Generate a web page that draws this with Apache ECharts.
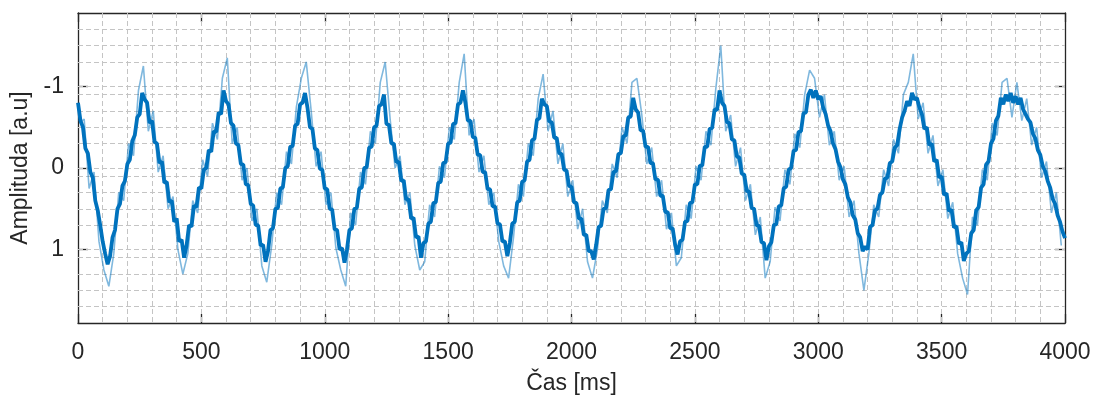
<!DOCTYPE html>
<html><head><meta charset="utf-8">
<script src="https://cdn.jsdelivr.net/npm/echarts@6/dist/echarts.min.js"></script>
<style>html,body{margin:0;padding:0;background:#fff}#c{width:1093px;height:401px}</style>
</head><body><div id="c"></div>
<script>
// ---- axis / tick definitions ----
const X_MIN = 0, X_MAX = 4000, X_INTERVAL = 500;
const Y_MIN = -1.9, Y_MAX = 1.9;
const Y_TICKS = [-1, 0, 1];
const Y_GRID = [-1.7, -1.5, -1.3, -1, -0.9, -0.7, -0.5, -0.3, 0, 0.1, 0.3, 0.5, 0.7, 1, 1.1, 1.3, 1.5, 1.7];
const X_GRID = [100,200,300,400,500,600,700,800,900,1000,1100,1200,1300,1400,1500,1600,1700,1800,1900,2000,
  2100,2200,2300,2400,2500,2600,2700,2800,2900,3000,3100,3200,3300,3400,3500,3600,3700,3800,3900];

// ---- main signal (sampled every 10 ms from 0 ms) ----
const MAIN_START = 0, MAIN_STEP = 10;
const mainValues = [
 -0.80,-0.58,-0.50,-0.24,-0.18,0.05,0.12,0.40,0.52,0.70,
 0.90,1.05,1.18,1.08,0.85,0.76,0.50,0.44,0.22,0.16,
 -0.05,-0.10,-0.33,-0.40,-0.62,-0.66,-0.92,-0.84,-0.80,-0.55,
 -0.58,-0.32,-0.30,-0.06,-0.08,0.18,0.17,0.42,0.40,0.66,
 0.62,0.90,0.88,1.10,0.95,0.70,0.72,0.46,0.48,0.24,
 0.25,0.02,0.00,-0.22,-0.20,-0.45,-0.44,-0.68,-0.66,-0.95,
 -0.82,-0.78,-0.55,-0.52,-0.30,-0.28,-0.05,-0.04,0.20,0.21,
 0.44,0.46,0.70,0.70,0.95,0.94,1.15,1.02,0.76,0.74,
 0.50,0.49,0.25,0.24,0.00,-0.02,-0.26,-0.27,-0.52,-0.54,
 -0.78,-0.80,-0.92,-0.74,-0.50,-0.48,-0.24,-0.22,0.01,0.02,
 0.25,0.26,0.50,0.51,0.75,0.76,1.00,0.98,1.16,1.00,
 0.76,0.74,0.50,0.49,0.25,0.24,0.00,-0.01,-0.25,-0.26,
 -0.50,-0.52,-0.76,-0.78,-0.90,-0.54,-0.53,-0.30,-0.30,-0.07,
 -0.08,0.16,0.15,0.39,0.38,0.62,0.61,0.85,0.84,1.10,
 0.92,0.90,0.68,0.66,0.43,0.42,0.18,0.17,-0.06,-0.07,
 -0.30,-0.31,-0.54,-0.55,-0.78,-0.80,-0.95,-0.80,-0.58,-0.58,
 -0.38,-0.37,-0.16,-0.16,0.05,0.05,0.26,0.26,0.47,0.47,
 0.68,0.69,0.90,0.90,1.08,0.92,0.68,0.66,0.42,0.40,
 0.17,0.15,-0.08,-0.10,-0.34,-0.36,-0.59,-0.61,-0.85,-0.78,
 -0.76,-0.57,-0.56,-0.37,-0.37,-0.18,-0.17,0.02,0.03,0.22,
 0.23,0.42,0.43,0.62,0.62,0.82,0.82,1.02,1.02,1.12,
 0.94,0.72,0.71,0.50,0.49,0.27,0.26,0.05,0.04,-0.17,
 -0.18,-0.39,-0.40,-0.62,-0.63,-0.86,-0.72,-0.68,-0.46,-0.46,
 -0.26,-0.26,-0.06,-0.06,0.14,0.14,0.34,0.34,0.54,0.54,
 0.74,0.74,0.94,1.06,0.90,0.88,0.66,0.65,0.43,0.42,
 0.20,0.20,-0.03,-0.03,-0.26,-0.26,-0.48,-0.49,-0.72,-0.71,
 -0.95,-0.80,-0.76,-0.56,-0.55,-0.35,-0.34,-0.14,-0.13,0.07,
 0.08,0.28,0.29,0.49,0.50,0.70,0.71,0.91,0.92,1.13,
 0.96,0.91,0.70,0.69,0.47,0.46,0.25,0.23,0.02,0.00,
 -0.21,-0.22,-0.44,-0.45,-0.67,-0.68,-0.90,-0.96,-0.86,-0.95,
 -0.84,-0.88,-0.74,-0.66,-0.52,-0.45,-0.30,-0.23,-0.08,-0.01,
 0.14,0.20,0.36,0.42,0.58,0.63,0.80,0.85,1.02,0.96,
 1.00,0.72,0.70,0.52,0.50,0.33,0.30,0.13,0.12,-0.06,
 -0.08,-0.25,-0.28,-0.48,-0.62,-0.70,-0.82,-0.76,-0.92,-0.84,
 -0.86,-0.74,-0.66,-0.48,-0.50,-0.28,-0.30,-0.08,-0.10,0.12,
 0.10,0.33,0.31,0.53,0.51,0.73,0.71,0.93,0.91,1.14,
 1.05,1.02,0.80,0.76,0.52,0.48,0.24,0.20,-0.04,-0.08,
 -0.30,-0.36,-0.58,-0.64,-0.86,-0.78,-0.90,-0.82,-0.92,-0.80,
 -0.88,-0.78,-0.86,-0.72,-0.66,-0.60,-0.56,-0.42,-0.36,-0.22,
 -0.16,-0.02,0.04,0.16,0.24,0.38,0.44,0.58,0.66,0.78,
 0.86
];

// ---- noise spikes of the raw signal (sampled every 20 ms from 5 ms) ----
const SPIKE_START = 5, SPIKE_STEP = 20;
const spikeValues = [
 -0.55,-0.60,0.25,0.05,0.90,1.25,1.45,1.05,0.30,0.40,
 -0.30,-0.15,-0.95,-1.25,-0.45,-0.70,0.05,-0.15,0.50,0.35,
 1.00,1.30,1.05,0.40,0.55,-0.10,0.10,-0.55,-0.35,-1.10,
 -1.35,-0.30,-0.50,0.15,0.00,0.65,0.50,1.20,1.40,0.95,
 0.30,0.45,-0.20,-0.05,-0.75,-1.10,-1.30,-0.70,-0.02,-0.20,
 0.45,0.30,0.98,1.25,1.45,0.55,0.70,0.05,0.20,-0.45,
 -0.30,-1.05,-1.30,-0.60,0.00,-0.15,0.45,0.30,0.95,1.25,
 1.15,0.45,0.60,-0.02,0.12,-0.50,-0.35,-1.05,-1.40,-0.40,
 -0.60,0.05,-0.15,0.45,0.30,0.90,1.20,1.35,0.85,0.20,
 0.35,-0.30,-0.15,-0.85,-1.15,-0.45,-0.70,-0.05,-0.30,0.35,
 0.15,0.75,0.50,1.15,1.35,1.00,0.40,0.55,-0.05,0.12,
 -0.50,-0.30,-1.05,-1.10,-0.65,-0.05,-0.25,0.35,0.15,0.75,
 0.55,1.20,1.10,0.45,0.62,-0.02,0.15,-0.45,-0.28,-0.98,
 -1.50,-0.45,-0.65,-0.02,-0.25,0.40,0.20,0.82,0.60,1.35,
 1.15,0.48,0.65,0.02,0.20,-0.42,-0.25,-0.90,-1.20,-1.10,
 -0.62,-0.90,-0.28,-0.45,0.15,-0.02,0.60,0.40,1.05,1.50,
 1.05,0.45,0.60,0.02,0.22,-0.35,-0.18,-0.90,-1.05,-1.40,
 -0.60,-0.80,-0.18,-0.40,0.22,0.02,0.62,0.42,1.05,1.35,
 1.55,0.60,0.70,0.02,0.15,-0.55,-0.40,-1.05,-1.10,-0.62,
 -1.05,-0.58,-0.85,-0.28,-0.50,0.12,-0.08,0.55,0.30,0.95
];

const mainData = mainValues.map((v, i) => [MAIN_START + i * MAIN_STEP, v]);
const spikeData = spikeValues.map((v, i) => [SPIKE_START + i * SPIKE_STEP, v]);

const FONT = 'Liberation Sans, Arial, Helvetica, sans-serif';
const AX = '#262626';
const gridLine = { color: '#c4c4c4', width: 1, type: [5, 3] };

const chart = echarts.init(document.getElementById('c'), null, { renderer: 'canvas' });
chart.setOption({
  animation: false,
  backgroundColor: '#fff',
  grid: { left: 78, right: 28, top: 13, bottom: 78, containLabel: false, outerBoundsMode: 'none' },
  xAxis: [{
    type: 'value', min: X_MIN, max: X_MAX, interval: X_INTERVAL, position: 'bottom',
    axisLine: { show: true, onZero: false, lineStyle: { color: AX, width: 1.3 } },
    axisTick: { show: true, inside: true, length: 9, lineStyle: { color: AX, width: 1.3 } },
    axisLabel: { color: AX, fontSize: 23, fontFamily: FONT, margin: 18, formatter: v => String(v) },
    splitLine: { show: false },
    name: 'Čas [ms]', nameLocation: 'middle', nameGap: 49,
    nameTextStyle: { color: AX, fontSize: 23, fontFamily: FONT }
  }, {
    type: 'value', min: X_MIN, max: X_MAX, interval: X_INTERVAL, position: 'top',
    axisLine: { show: true, onZero: false, lineStyle: { color: AX, width: 1.3 } },
    axisTick: { show: true, inside: true, length: 9, lineStyle: { color: AX, width: 1.3 } },
    axisLabel: { show: false }, splitLine: { show: false }
  }],
  yAxis: [{
    type: 'value', inverse: true, min: Y_MIN, max: Y_MAX, position: 'left',
    axisLine: { show: true, onZero: false, lineStyle: { color: AX, width: 1.3 } },
    axisTick: { show: true, inside: true, length: 10, customValues: Y_TICKS, lineStyle: { color: AX, width: 1.3 } },
    axisLabel: { color: AX, fontSize: 23, fontFamily: FONT, margin: 14, customValues: Y_TICKS,
      formatter: v => (v < 0 ? '-' : '') + Math.abs(v) },
    splitLine: { show: false },
    name: 'Amplituda [a.u]', nameLocation: 'middle', nameGap: 44,
    nameTextStyle: { color: AX, fontSize: 23, fontFamily: FONT }
  }, {
    type: 'value', inverse: true, min: Y_MIN, max: Y_MAX, position: 'right',
    axisLine: { show: true, onZero: false, lineStyle: { color: AX, width: 1.3 } },
    axisTick: { show: true, inside: true, length: 10, customValues: Y_TICKS, lineStyle: { color: AX, width: 1.3 } },
    axisLabel: { show: false }, splitLine: { show: false }
  }],
  series: [{
    type: 'line', data: [], z: 1, silent: true,
    markLine: {
      silent: true, symbol: 'none', z: 1, animation: false,
      label: { show: false }, emphasis: { disabled: true },
      lineStyle: gridLine,
      data: X_GRID.map(v => ({ xAxis: v })).concat(Y_GRID.map(v => ({ yAxis: v })))
    }
  }, {
    type: 'line', data: spikeData, z: 2, showSymbol: false, silent: true,
    lineStyle: { color: 'rgba(0,114,189,0.5)', width: 1.6 }
  }, {
    type: 'line', data: mainData, z: 3, showSymbol: false, silent: true,
    lineStyle: { color: '#0072BD', width: 3.8, join: 'bevel' }
  }]
});
</script></body></html>
